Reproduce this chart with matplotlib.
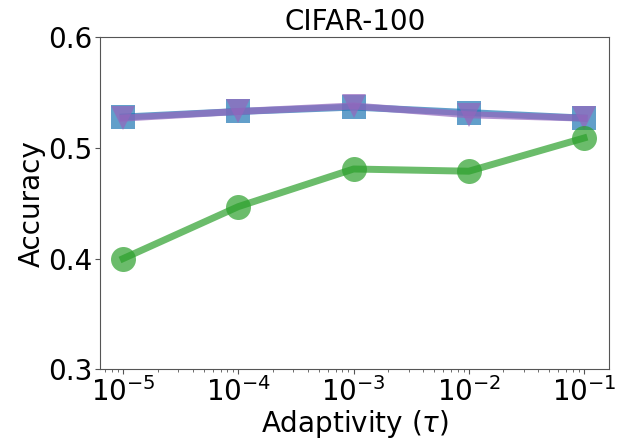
import numpy as np
import matplotlib.pyplot as plt

# Accuracy vs. adaptivity on CIFAR-100
tau = [1e-5, 1e-4, 1e-3, 1e-2, 1e-1]
acc_square = [0.528, 0.533, 0.537, 0.532, 0.527]
acc_triangle = [0.527, 0.533, 0.538, 0.530, 0.527]
acc_circle = [0.400, 0.447, 0.481, 0.479, 0.509]

fig = plt.figure(figsize=(6.18, 4.4), dpi=100)
ax = fig.add_axes([0.162, 0.161, 0.824, 0.754])

ax.plot(tau, acc_square, color='tab:blue', marker='s', markersize=17,
        markeredgewidth=0, linewidth=5, alpha=0.7)
ax.plot(tau, acc_triangle, color='tab:purple', marker='v', markersize=17,
        markeredgewidth=0, linewidth=5, alpha=0.7)
ax.plot(tau, acc_circle, color='tab:green', marker='o', markersize=18,
        markeredgewidth=0, linewidth=5, alpha=0.7)

ax.set_xscale('log')
ax.set_xlim(10**-5.2, 10**-0.78)
ax.set_ylim(0.3, 0.6)
ax.set_yticks([0.3, 0.4, 0.5, 0.6])
ax.set_xticks(tau)
ax.tick_params(axis='both', which='major', labelsize=20, length=3.5, pad=2, color='#555555')
ax.tick_params(axis='both', which='minor', length=2, color='#555555')
for sp in ax.spines.values():
    sp.set_color('#555555')
ax.set_xlabel(r'Adaptivity ($\tau$)', fontsize=20, labelpad=1)
ax.set_ylabel('Accuracy', fontsize=20, labelpad=2)
ax.set_title('CIFAR-100', fontsize=20, pad=5)

plt.savefig('out.png', dpi=100)
